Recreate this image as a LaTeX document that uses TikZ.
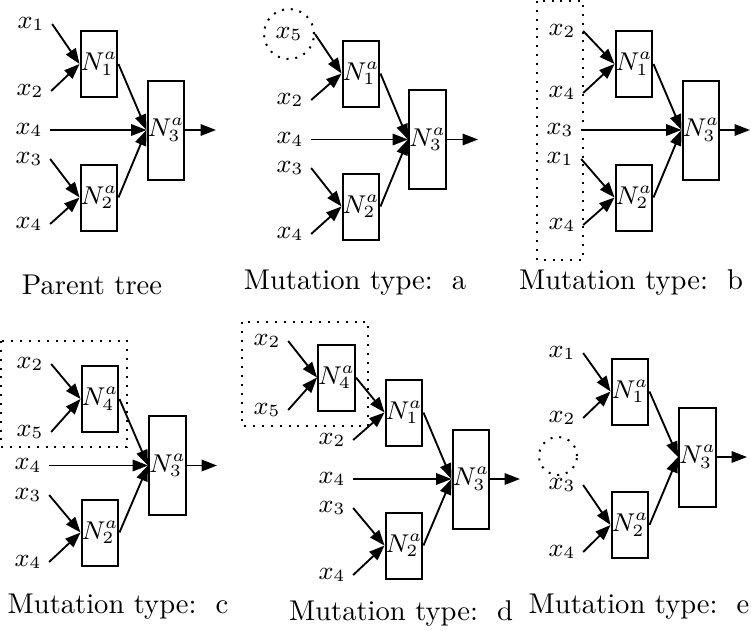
\documentclass[tikz,border=0pt]{standalone}
\usepackage{amsmath}
\usepackage{tikz}
\usetikzlibrary{arrows.meta,positioning}

\begin{document}
\begin{tikzpicture}[x=0.35pt, y=-0.35pt,
    unit/.style={draw, line width=0.7pt, minimum width=11.9pt, minimum height=23.1pt, inner sep=0pt, font=\fontsize{8.8}{10}\selectfont},
    outunit/.style={unit, minimum height=34.65pt},
    xin/.style={inner sep=2.5pt, font=\fontsize{9}{10}\selectfont},
    link/.style={-{Triangle[length=5.4pt,width=4pt]}, line width=0.65pt},
    caption/.style={font=\fontsize{10}{12}\selectfont},
    gone/.style={line width=0.7pt, dash pattern=on 0.7pt off 2.4pt}]
    \useasboundingbox (0,0) rectangle (751,630);

    % Parent tree
    \node[unit] (p1) at (99,64) {$N_1^a$};
    \node[unit] (p2) at (99,197.5) {$N_2^a$};
    \node[outunit] (p3) at (166,130) {$N_3^a$};
    \node[xin] (px1) at (31,24) {$x_1$};
    \node[xin] (px2) at (30,91) {$x_2$};
    \node[xin] (px4) at (29,130) {$x_4$};
    \node[xin] (px3) at (29,159) {$x_3$};
    \node[xin] (px4b) at (29,224) {$x_4$};
    \coordinate (po) at (216,130);
    \draw[link] (px1.east) -- (p1.west);
    \draw[link] (px2.east) -- (p1.west);
    \draw[link] (px3.east) -- (p2.west);
    \draw[link] (px4b.east) -- (p2.west);
    \draw[link] (px4.east) -- (p3.west);
    \draw[link] (p1.east) -- (p3.west);
    \draw[link] (p2.east) -- (p3.west);
    \draw[link] (p3.east) -- (po);
    \node[caption] (pcap) at (92,285) {Parent tree};

    % Mutation a: x1 replaced by x5
    \node[unit] (a1) at (361,73.5) {$N_1^a$};
    \node[unit] (a2) at (361,206.5) {$N_2^a$};
    \node[outunit] (a3) at (427.5,139.5) {$N_3^a$};
    \node[xin, circle, draw, gone, minimum size=17.5pt] (ax5) at (289,34) {$x_5$};
    \node[xin] (ax2) at (290,100) {$x_2$};
    \node[xin] (ax4) at (290,139.5) {$x_4$};
    \node[xin] (ax3) at (290,168) {$x_3$};
    \node[xin] (ax4b) at (290,234) {$x_4$};
    \coordinate (ao) at (478,139.5);
    \draw[link] (ax5.east) -- (a1.west);
    \draw[link] (ax2.east) -- (a1.west);
    \draw[link] (ax3.east) -- (a2.west);
    \draw[link] (ax4b.east) -- (a2.west);
    \draw[link] (ax4.east) -- (a3.west);
    \draw[link] (a1.east) -- (a3.west);
    \draw[link] (a2.east) -- (a3.west);
    \draw[link] (a3.east) -- (ao);
    \node[caption] (acap) at (355,283) {Mutation type:\ \ a};

    % Mutation b: inputs shuffled
    \node[unit] (b1) at (634,64) {$N_1^a$};
    \node[unit] (b2) at (634,197.5) {$N_2^a$};
    \node[outunit] (b3) at (701,130) {$N_3^a$};
    \node[xin] (bx2) at (562,31) {$x_2$};
    \node[xin] (bx4) at (562,93) {$x_4$};
    \node[xin] (bx3) at (560,130) {$x_3$};
    \node[xin] (bx1) at (560,159) {$x_1$};
    \node[xin] (bx4b) at (562,225) {$x_4$};
    \draw[gone] (537,1) rectangle (583,260);
    \coordinate (bo) at (750,130);
    \draw[link] (bx2.east) -- (b1.west);
    \draw[link] (bx4.east) -- (b1.west);
    \draw[link] (bx1.east) -- (b2.west);
    \draw[link] (bx4b.east) -- (b2.west);
    \draw[link] (bx3.east) -- (b3.west);
    \draw[link] (b1.east) -- (b3.west);
    \draw[link] (b2.east) -- (b3.west);
    \draw[link] (b3.east) -- (bo);
    \node[caption] (bcap) at (631,283) {Mutation type:\ \ b};

    % Mutation c: subtree N1 replaced by N4
    \node[unit] (c4) at (100,399) {$N_4^a$};
    \node[unit] (c2) at (100,532.5) {$N_2^a$};
    \node[outunit] (c3) at (167.5,465.5) {$N_3^a$};
    \node[xin] (cx2) at (30,364) {$x_2$};
    \node[xin] (cx5) at (30,432) {$x_5$};
    \node[xin] (cx4) at (28,465.5) {$x_4$};
    \node[xin] (cx3) at (28,495) {$x_3$};
    \node[xin] (cx4b) at (28,562) {$x_4$};
    \draw[gone] (1,341) rectangle (127,447);
    \coordinate (co) at (217,465.5);
    \draw[link] (cx2.east) -- (c4.west);
    \draw[link] (cx5.east) -- (c4.west);
    \draw[link] (cx3.east) -- (c2.west);
    \draw[link] (cx4b.east) -- (c2.west);
    \draw[link] (cx4.east) -- (c3.west);
    \draw[link] (c4.east) -- (c3.west);
    \draw[link] (c2.east) -- (c3.west);
    \draw[link] (c3.east) -- (co);
    \node[caption] (ccap) at (118,607) {Mutation type:\ \ c};

    % Mutation d: x1 replaced by subtree N4
    \node[unit] (d4) at (336.5,377.5) {$N_4^a$};
    \node[unit] (d1) at (404,412.5) {$N_1^a$};
    \node[unit] (d2) at (404,545.5) {$N_2^a$};
    \node[outunit] (d3) at (471,479) {$N_3^a$};
    \node[xin] (dx2) at (267,341) {$x_2$};
    \node[xin] (dx5) at (267,410) {$x_5$};
    \node[xin] (dx2b) at (332,440) {$x_2$};
    \node[xin] (dx4) at (332,479) {$x_4$};
    \node[xin] (dx3) at (332,508) {$x_3$};
    \node[xin] (dx4b) at (332,575) {$x_4$};
    \draw[gone] (242,322) rectangle (368,426);
    \coordinate (do) at (520,479);
    \draw[link] (dx2.east) -- (d4.west);
    \draw[link] (dx5.east) -- (d4.west);
    \draw[link] (d4.east) -- (d1.west);
    \draw[link] (dx2b.east) -- (d1.west);
    \draw[link] (dx3.east) -- (d2.west);
    \draw[link] (dx4b.east) -- (d2.west);
    \draw[link] (dx4.east) -- (d3.west);
    \draw[link] (d1.east) -- (d3.west);
    \draw[link] (d2.east) -- (d3.west);
    \draw[link] (d3.east) -- (do);
    \node[caption] (dcap) at (401,613) {Mutation type:\ \ d};

    % Mutation e: x4 input removed
    \node[unit] (e1) at (630,391.5) {$N_1^a$};
    \node[unit] (e2) at (630,525) {$N_2^a$};
    \node[outunit] (e3) at (697.5,457) {$N_3^a$};
    \node[xin] (ex1) at (562,353) {$x_1$};
    \node[xin] (ex2) at (562,418) {$x_2$};
    \node[circle, draw, gone, minimum size=13.3pt] (egap) at (558,456) {};
    \node[xin] (ex3) at (562,485) {$x_3$};
    \node[xin] (ex4) at (562,552) {$x_4$};
    \coordinate (eo) at (747,457);
    \draw[link] (ex1.east) -- (e1.west);
    \draw[link] (ex2.east) -- (e1.west);
    \draw[link] (ex3.east) -- (e2.west);
    \draw[link] (ex4.east) -- (e2.west);
    \draw[link] (e1.east) -- (e3.west);
    \draw[link] (e2.east) -- (e3.west);
    \draw[link] (e3.east) -- (eo);
    \node[caption] (ecap) at (639,607) {Mutation type:\ \ e};
\end{tikzpicture}
\end{document}
